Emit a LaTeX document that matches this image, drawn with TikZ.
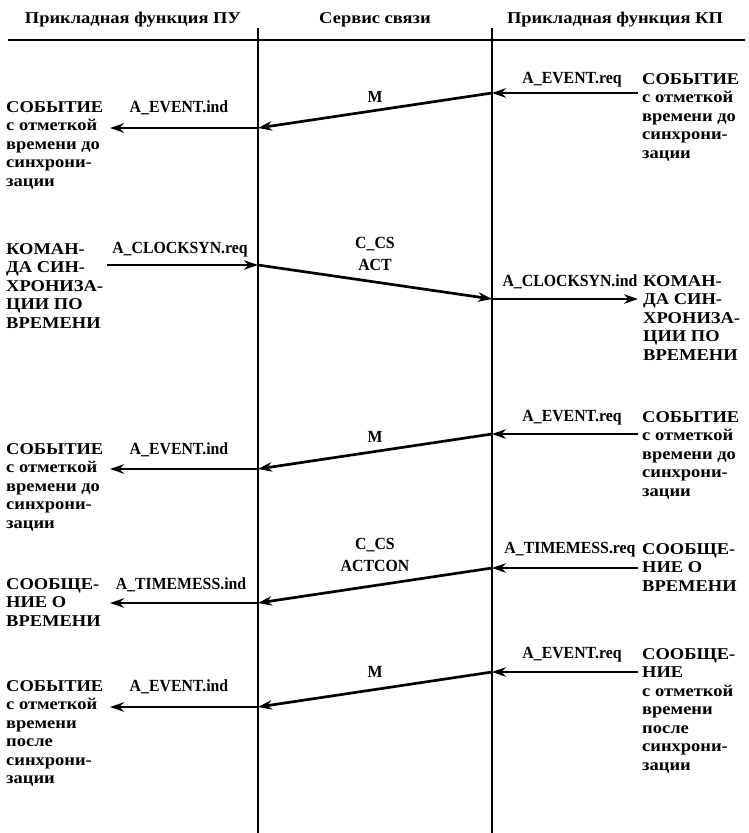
\documentclass[tikz,border=0pt]{standalone}
\usepackage{fontspec}
\setmainfont{Liberation Serif}[FakeStretch=1.12]
\newfontfamily\latfont{Liberation Serif}[FakeStretch=0.93]
\usetikzlibrary{arrows.meta}
\tikzset{
  txt/.style={font=\bfseries\fontsize{16.5}{18.5}\selectfont, inner sep=0pt},
  lat/.style={font=\latfont\bfseries\fontsize{17}{22}\selectfont, inner sep=0pt},
  blk/.style={txt, align=left, anchor=north west},
  sig/.style={line width=2.7pt, -{Stealth[length=14pt,width=9.5pt]}},
  life/.style={line width=1.9pt}
}
\begin{document}
\begin{tikzpicture}[x=1pt,y=-1pt]
				\useasboundingbox (0,0) rectangle (749,833);
				% head of the table
				\node[txt] (hPU) at (133,20) {Прикладная функция ПУ};
				\node[txt] (hCS) at (375,20) {Сервис связи};
				\node[txt] (hKP) at (615,20) {Прикладная функция КП};
				\path (8,40) coordinate (H1);
				\path (745,40) coordinate (H2);
				\draw[line width=2.8pt] (H1) -- (H2);
				\path (258,28) coordinate (PU1);
				\path (258,833) coordinate (PU2);
				\path (492,28) coordinate (KP1);
				\path (492,833) coordinate (KP2);
				\draw[life] (PU1) -- (PU2) (KP1) -- (KP2);
				% event before synchronisation
				\path (638,93) coordinate (A1);
				\path (492,93) coordinate (B1);
				\path (258,128) coordinate (C1);
				\path (110,128) coordinate (D1);
				\draw[sig] (A1) -- (B1);
				\draw[sig] (B1) -- (C1);
				\draw[sig] (C1) -- (D1);
				\node[lat] (req1) at (572,80) {A\_EVENT.req};
				\node[lat] (m1) at (375,97) {M};
				\node[lat] (ind1) at (179,108) {A\_EVENT.ind};
				\node[blk] (kp1) at (642,73) {СОБЫТИЕ\\с отметкой\\времени до\\синхрони-\\зации};
				\node[blk] (pu1) at (6,101) {СОБЫТИЕ\\с отметкой\\времени до\\синхрони-\\зации};
				% clock synchronisation command
				\path (107,265) coordinate (D2);
				\path (258,265) coordinate (C2);
				\path (492,299) coordinate (B2);
				\path (638,299) coordinate (A2);
				\draw[sig] (D2) -- (C2);
				\draw[sig] (C2) -- (B2);
				\draw[sig] (B2) -- (A2);
				\node[lat] (req2) at (180,250) {A\_CLOCKSYN.req};
				\node[lat, align=center] (m2) at (375,254) {C\_CS\\ACT};
				\node[lat] (ind2) at (570,282) {A\_CLOCKSYN.ind};
				\node[blk] (pu2) at (6,243) {КОМАН-\\ДА СИН-\\ХРОНИЗА-\\ЦИИ ПО\\ВРЕМЕНИ};
				\node[blk] (kp2) at (643,275) {КОМАН-\\ДА СИН-\\ХРОНИЗА-\\ЦИИ ПО\\ВРЕМЕНИ};
				% event before synchronisation, again
				\path (638,434) coordinate (A3);
				\path (492,434) coordinate (B3);
				\path (258,469) coordinate (C3);
				\path (110,469) coordinate (D3);
				\draw[sig] (A3) -- (B3);
				\draw[sig] (B3) -- (C3);
				\draw[sig] (C3) -- (D3);
				\node[lat] (req3) at (572,418) {A\_EVENT.req};
				\node[lat] (m3) at (375,437) {M};
				\node[lat] (ind3) at (179,450) {A\_EVENT.ind};
				\node[blk] (kp3) at (642,411) {СОБЫТИЕ\\с отметкой\\времени до\\синхрони-\\зации};
				\node[blk] (pu3) at (6,443) {СОБЫТИЕ\\с отметкой\\времени до\\синхрони-\\зации};
				% time message
				\path (638,568) coordinate (A4);
				\path (492,568) coordinate (B4);
				\path (258,603) coordinate (C4);
				\path (110,603) coordinate (D4);
				\draw[sig] (A4) -- (B4);
				\draw[sig] (B4) -- (C4);
				\draw[sig] (C4) -- (D4);
				\node[lat] (req4) at (570,550) {A\_TIMEMESS.req};
				\node[lat, align=center] (m4) at (375,555) {C\_CS\\ACTCON};
				\node[lat] (ind4) at (181,585) {A\_TIMEMESS.ind};
				\node[blk] (kp4) at (642,543) {СООБЩЕ-\\НИЕ О\\ВРЕМЕНИ};
				\node[blk] (pu4) at (6,578) {СООБЩЕ-\\НИЕ О\\ВРЕМЕНИ};
				% event after synchronisation
				\path (638,672) coordinate (A5);
				\path (492,672) coordinate (B5);
				\path (258,707) coordinate (C5);
				\path (110,707) coordinate (D5);
				\draw[sig] (A5) -- (B5);
				\draw[sig] (B5) -- (C5);
				\draw[sig] (C5) -- (D5);
				\node[lat] (req5) at (572,655) {A\_EVENT.req};
				\node[lat] (m5) at (375,672) {M};
				\node[lat] (ind5) at (179,687) {A\_EVENT.ind};
				\node[blk] (kp5) at (642,648) {СООБЩЕ-\\НИЕ\\с отметкой\\времени\\после\\синхрони-\\зации};
				\node[blk] (pu5) at (6,680) {СОБЫТИЕ\\с отметкой\\времени\\после\\синхрони-\\зации};
			\end{tikzpicture}
\end{document}
